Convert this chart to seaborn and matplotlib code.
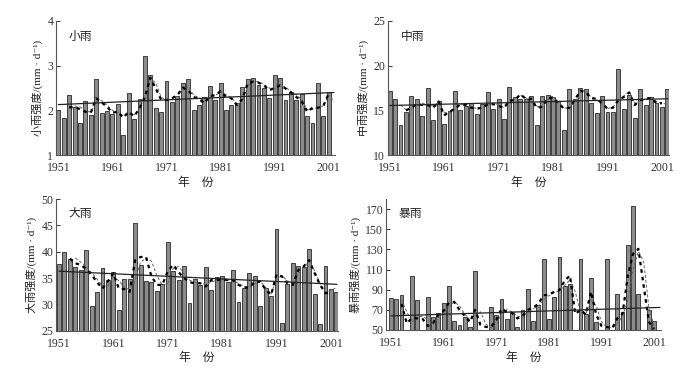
import numpy as np
import matplotlib
matplotlib.use("Agg")
import matplotlib.pyplot as plt
import seaborn as sns

# --------------------------------------------
# Data
# --------------------------------------------
years_light = np.arange(1951, 2002)          # 小雨 1951-2001
years_mid = np.arange(1951, 2003)            # 中雨 1951-2002
years_heavy = np.arange(1951, 2003)          # 大雨 1951-2002
years_storm = np.arange(1951, 2002)          # 暴雨 1951-2001

light_vals = [2.0, 1.84, 2.35, 2.08, 1.71, 2.22, 1.9, 2.7, 1.95, 1.98,
              1.91, 2.14, 1.45, 2.38, 1.8, 2.25, 3.21, 2.78, 2.06, 1.97,
              2.65, 2.19, 2.33, 2.62, 2.7, 2.0, 2.12, 2.3, 2.54, 2.24,
              2.62, 2.0, 2.12, 2.16, 2.52, 2.7, 2.73, 2.56, 2.51, 2.27,
              2.8, 2.73, 2.24, 2.41, 2.24, 2.37, 1.87, 1.71, 2.62, 1.87,
              2.4]
light_ma_years = np.arange(1953, 2002)
light_ma = [2.07, 2.07, 2.03, 1.97, 1.95, 2.27, 2.18, 2.08, 1.95, 1.97,
            1.84, 1.97, 1.87, 2.04, 2.3, 2.73, 2.49, 2.24, 2.23, 2.27,
            2.34, 2.51, 2.45, 2.3, 2.25, 2.16, 2.32, 2.34, 2.43, 2.3,
            2.27, 2.12, 2.25, 2.6, 2.64, 2.62, 2.56, 2.45, 2.5, 2.56,
            2.49, 2.4, 2.3, 2.2, 1.97, 2.06, 2.06, 2.1, 2.38]
light_ma2_years = np.arange(1954, 2003)
light_ma2 = [2.1, 2.08, 2.0, 1.96, 2.2, 2.22, 2.12, 2.0, 1.96, 1.88,
             1.92, 1.9, 2.0, 2.25, 2.7, 2.62, 2.3, 2.22, 2.25, 2.32,
             2.48, 2.52, 2.35, 2.28, 2.2, 2.3, 2.33, 2.42, 2.35, 2.28,
             2.15, 2.2, 2.55, 2.65, 2.64, 2.58, 2.5, 2.48, 2.55, 2.52,
             2.42, 2.35, 2.24, 2.02, 2.02, 2.06, 2.1, 2.35, 2.2]
light_trend = [2.13, 2.40]

mid_vals = [17.2, 16.3, 13.4, 14.85, 16.6, 16.3, 14.35, 17.5, 13.9, 16.0,
            13.5, 14.9, 17.15, 15.0, 15.5, 15.8, 14.6, 15.7, 17.0, 15.2,
            16.3, 14.1, 17.6, 16.5, 16.3, 16.3, 16.6, 13.4, 16.6, 16.7,
            16.5, 16.0, 12.8, 17.4, 16.3, 17.5, 17.4, 15.8, 14.7, 16.6,
            14.85, 14.85, 19.6, 15.2, 16.7, 14.15, 17.4, 15.6, 16.45, 15.8,
            15.4, 17.4]
mid_ma_years = np.arange(1954, 2002)
mid_ma = [15.0, 15.3, 15.7, 15.6, 15.6, 15.3, 16.0, 14.45, 14.85, 15.2,
          15.7, 15.6, 15.3, 15.2, 15.3, 15.7, 15.7, 15.5, 15.3, 16.1,
          16.15, 16.8, 16.3, 16.3, 15.3, 15.4, 16.35, 16.45, 15.8, 15.2,
          15.3, 16.15, 17.2, 17.05, 16.35, 16.3, 15.8, 15.2, 15.3, 16.15,
          16.5, 17.0, 15.6, 16.15, 16.3, 16.4, 15.8, 15.8]
mid_ma2_years = np.arange(1953, 2003)
mid_ma2 = [15.6, 15.1, 15.2, 15.6, 15.8, 15.7, 15.5, 15.9, 14.8, 14.7,
           15.1, 15.6, 15.8, 15.4, 15.2, 15.3, 15.6, 15.8, 15.6, 15.3,
           15.9, 16.3, 16.7, 16.4, 16.2, 15.5, 15.3, 16.2, 16.6, 15.9,
           15.3, 15.2, 16.0, 17.0, 17.1, 16.5, 16.2, 15.6, 15.2, 15.4,
           16.0, 16.6, 17.1, 15.8, 16.0, 16.3, 16.5, 16.0, 15.8, 15.7]
mid_trend = [15.55, 16.3]

heavy_vals = [37.7, 39.9, 38.6, 37.1, 36.6, 40.4, 29.6, 32.3, 36.9, 34.7,
              36.1, 28.9, 34.8, 34.8, 45.4, 37.5, 34.4, 34.2, 32.5, 33.8,
              41.8, 36.3, 34.7, 37.3, 30.3, 34.8, 33.7, 37.0, 32.8, 35.1,
              35.3, 34.2, 36.5, 30.4, 33.1, 35.9, 35.4, 29.7, 33.2, 31.6,
              44.4, 26.5, 33.8, 37.9, 37.3, 37.0, 40.6, 31.9, 26.3, 37.3,
              33.0, 32.3]
heavy_ma_years = np.arange(1953, 2002)
heavy_ma = [38.7, 37.8, 37.5, 36.7, 35.6, 34.2, 33.0, 34.4, 35.9, 33.0,
            32.9, 32.4, 38.4, 39.0, 39.0, 35.3, 33.7, 33.7, 36.3, 37.5,
            36.1, 35.0, 34.2, 34.0, 34.0, 33.4, 34.6, 34.6, 34.7, 34.6,
            34.6, 33.7, 33.2, 33.2, 34.3, 34.3, 32.8, 31.8, 35.7, 35.3,
            34.0, 33.7, 36.5, 37.2, 38.4, 35.9, 33.7, 32.1, 32.4]
heavy_ma2_years = np.arange(1954, 2003)
heavy_ma2 = [38.8, 38.0, 37.2, 36.0, 34.8, 33.5, 33.6, 35.2, 34.5, 33.2,
             32.8, 34.5, 38.0, 38.8, 38.2, 35.5, 33.6, 34.0, 36.8, 37.2,
             35.8, 34.6, 34.2, 34.0, 33.8, 34.2, 34.6, 34.7, 34.6, 34.5,
             34.0, 33.4, 33.3, 34.0, 34.4, 33.2, 32.0, 34.8, 35.4, 34.5,
             33.8, 35.8, 37.0, 38.2, 36.4, 34.0, 32.4, 32.6, 33.2]
heavy_trend = [36.3, 33.8]

storm_vals = [81.6, 80.6, 85.2, 48, 104, 79.3, 48, 83, 63, 66.4,
              77, 93.8, 59.2, 55, 62.5, 53.3, 109, 48, 48, 72.4,
              64.8, 81.2, 60.9, 68, 53.3, 69.4, 91.1, 59.2, 75.3, 120.7,
              60.5, 82.9, 122.7, 93.8, 95.4, 48, 120.7, 65.5, 101.6, 58.2,
              48, 120.7, 48, 86.2, 67.4, 133.9, 172.7, 85.5, 48, 69.7,
              59.2]
storm_ma_years = np.arange(1953, 2002)
storm_ma = [76, 56.6, 62, 61.5, 61, 54, 57, 65, 69, 77,
            78, 70, 64, 58, 70, 55, 53, 53, 60, 71,
            68, 67, 61.5, 64, 70, 72, 76, 84.5, 85, 88,
            89.5, 99, 104, 66, 70, 65.5, 88, 65, 54, 53,
            51.6, 61.5, 66.4, 104, 125.7, 130.6, 94, 58, 51]
storm_ma2_years = np.arange(1953, 2002)
storm_ma2 = [80, 68, 58, 62, 64, 60, 56, 62, 67, 73,
             78, 74, 66, 60, 64, 68, 56, 52, 56, 66,
             70, 68, 64, 62, 67, 71, 74, 80, 84, 87,
             89, 94, 100, 88, 68, 66, 80, 74, 58, 53,
             52, 56, 64, 80, 110, 128, 118, 72, 54]
storm_trend = [64.0, 72.4]

tick_years = [1951, 1961, 1971, 1981, 1991, 2001]

# --------------------------------------------
# Style
# --------------------------------------------
sns.set_style("ticks")
plt.rcParams['font.family'] = ['Liberation Serif', 'Noto Sans CJK SC', 'DejaVu Sans']
plt.rcParams['axes.edgecolor'] = '#555555'
plt.rcParams['axes.linewidth'] = 0.8

fig = plt.figure(figsize=(6.91, 3.71), dpi=100)
W, H = 691, 371

panels = [
    # name, years, vals, ma_years, ma, ma2_years, ma2, trend, ylim, yticks, rect(px), xlim
    ("小雨", years_light, light_vals, light_ma_years, light_ma, light_ma2_years, light_ma2,
     light_trend, (1, 4), [1, 2, 3, 4], (56, 20.7, 335, 155.3), (1950.57, 2002.15)),
    ("中雨", years_mid, mid_vals, mid_ma_years, mid_ma, mid_ma2_years, mid_ma2,
     mid_trend, (10, 25), [10, 15, 20, 25], (388, 20.7, 669, 155.3), (1950.7, 2002.3)),
    ("大雨", years_heavy, heavy_vals, heavy_ma_years, heavy_ma, heavy_ma2_years, heavy_ma2,
     heavy_trend, (25, 50), [25, 30, 35, 40, 45, 50], (56, 199, 338, 330.7), (1950.45, 2002.3)),
    ("暴雨", years_storm, storm_vals, storm_ma_years, storm_ma, storm_ma2_years, storm_ma2,
     storm_trend, (50, 180), [50, 70, 90, 110, 130, 150, 170], (386, 199, 661, 330), (1950.05, 2002.3)),
]

for name, yrs, vals, my, ma, my2, ma2, trend, ylim, yticks, rect, xlim in panels:
    x0, y0, x1, y1 = rect
    ax = fig.add_axes([x0 / W, 1 - y1 / H, (x1 - x0) / W, (y1 - y0) / H])

    sns.barplot(x=yrs, y=vals, native_scale=True, width=0.72, color='#8c8c8c',
                edgecolor='#2a2a2a', linewidth=0.6, errorbar=None, ax=ax, zorder=2)

    # thin grey dashed curve, bold black dashed curve, linear trend
    sns.lineplot(x=my2, y=ma2, ax=ax, color='#666666', linewidth=0.7,
                 linestyle=(0, (3, 2)), zorder=3)
    sns.lineplot(x=my, y=ma, ax=ax, color='black', linewidth=1.6,
                 linestyle=(0, (1.6, 1.8)), zorder=4)
    sns.lineplot(x=[yrs[0], xlim[1] - 0.2], y=trend, ax=ax, color='#222222',
                 linewidth=0.9, zorder=5)

    ax.set_xlim(*xlim)
    ax.set_ylim(*ylim)
    ax.set_xticks(tick_years)
    ax.set_xticklabels([str(t) for t in tick_years])
    ax.set_yticks(yticks)
    ax.tick_params(axis='y', direction='in', length=3, width=0.7, labelsize=8.5, pad=2,
                   colors='#333333')
    ax.tick_params(axis='x', length=0, labelsize=8.5, pad=5, colors='#333333')
    sns.despine(ax=ax)

    ax.set_xlabel("年    份", fontsize=8.5, labelpad=2, color='#222222')
    ax.set_ylabel(name + "强度/(mm · d⁻¹)", fontsize=8, labelpad=3, color='#222222')
    ax.text(0.045, 0.86, name, transform=ax.transAxes, fontsize=8.5, color='#222222')

plt.savefig("out.png", dpi=100)
print("Completed Successfully!")
